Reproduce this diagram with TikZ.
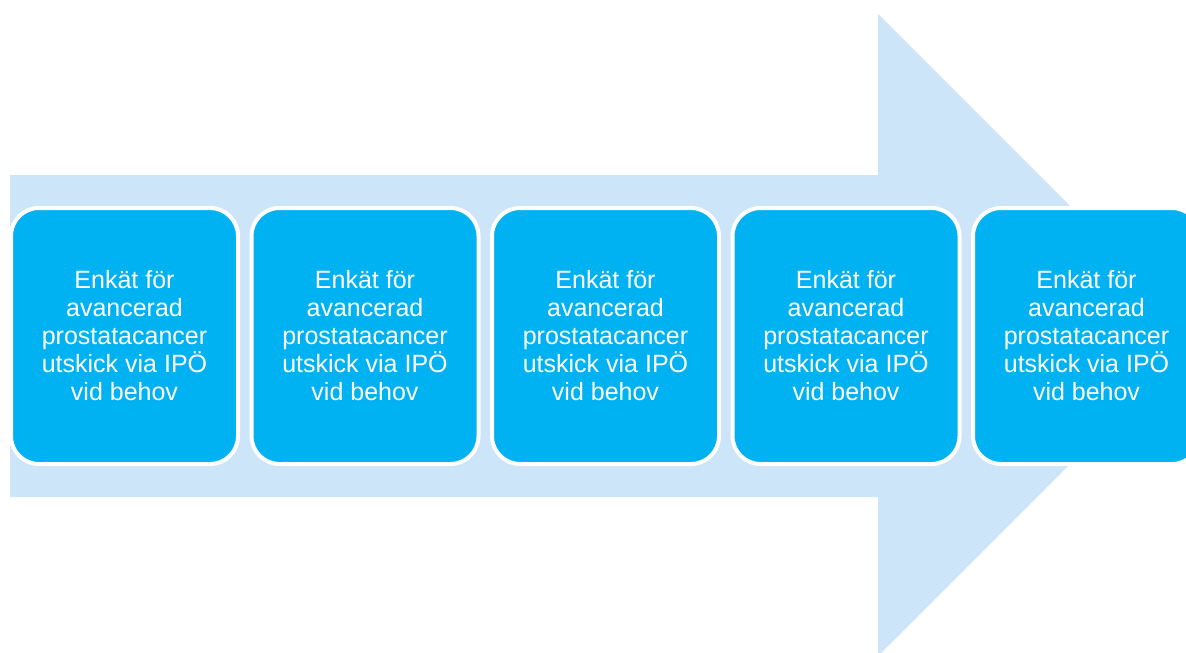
\documentclass[tikz,border=0pt]{standalone}
\usepackage{fontspec}
\setmainfont{Liberation Sans}
\usetikzlibrary{positioning}

\definecolor{pilbla}{HTML}{CCE5F8}
\definecolor{rutbla}{HTML}{00B2F1}

\begin{document}
\begin{tikzpicture}[x=1pt, y=-1pt, node distance={9.5pt},
  steg/.style = {draw=white, line width=4pt, fill=rutbla, rounded corners=28pt,
    minimum width=227pt, minimum height=256pt, inner sep=0pt,
    align=center, text=white, font=\fontsize{25}{28}\selectfont}]
\useasboundingbox (0,0) rectangle (1186,653);
\clip (0,0) rectangle (1186,653);

% stora pilen i bakgrunden
\fill[pilbla] (10,175) -- (878,175) -- (878,14) -- (1199,335) -- (878,656)
  -- (878,497) -- (10,497) -- cycle;

\node[steg] (s1) at (124.5,336) {Enkät för\\avancerad\\prostatacancer\\utskick via IPÖ\\vid behov};
\node[steg] (s2) [right=of s1] {Enkät för\\avancerad\\prostatacancer\\utskick via IPÖ\\vid behov};
\node[steg] (s3) [right=of s2] {Enkät för\\avancerad\\prostatacancer\\utskick via IPÖ\\vid behov};
\node[steg] (s4) [right=of s3] {Enkät för\\avancerad\\prostatacancer\\utskick via IPÖ\\vid behov};
\node[steg] (s5) [right=of s4] {Enkät för\\avancerad\\prostatacancer\\utskick via IPÖ\\vid behov};
\end{tikzpicture}
\end{document}
